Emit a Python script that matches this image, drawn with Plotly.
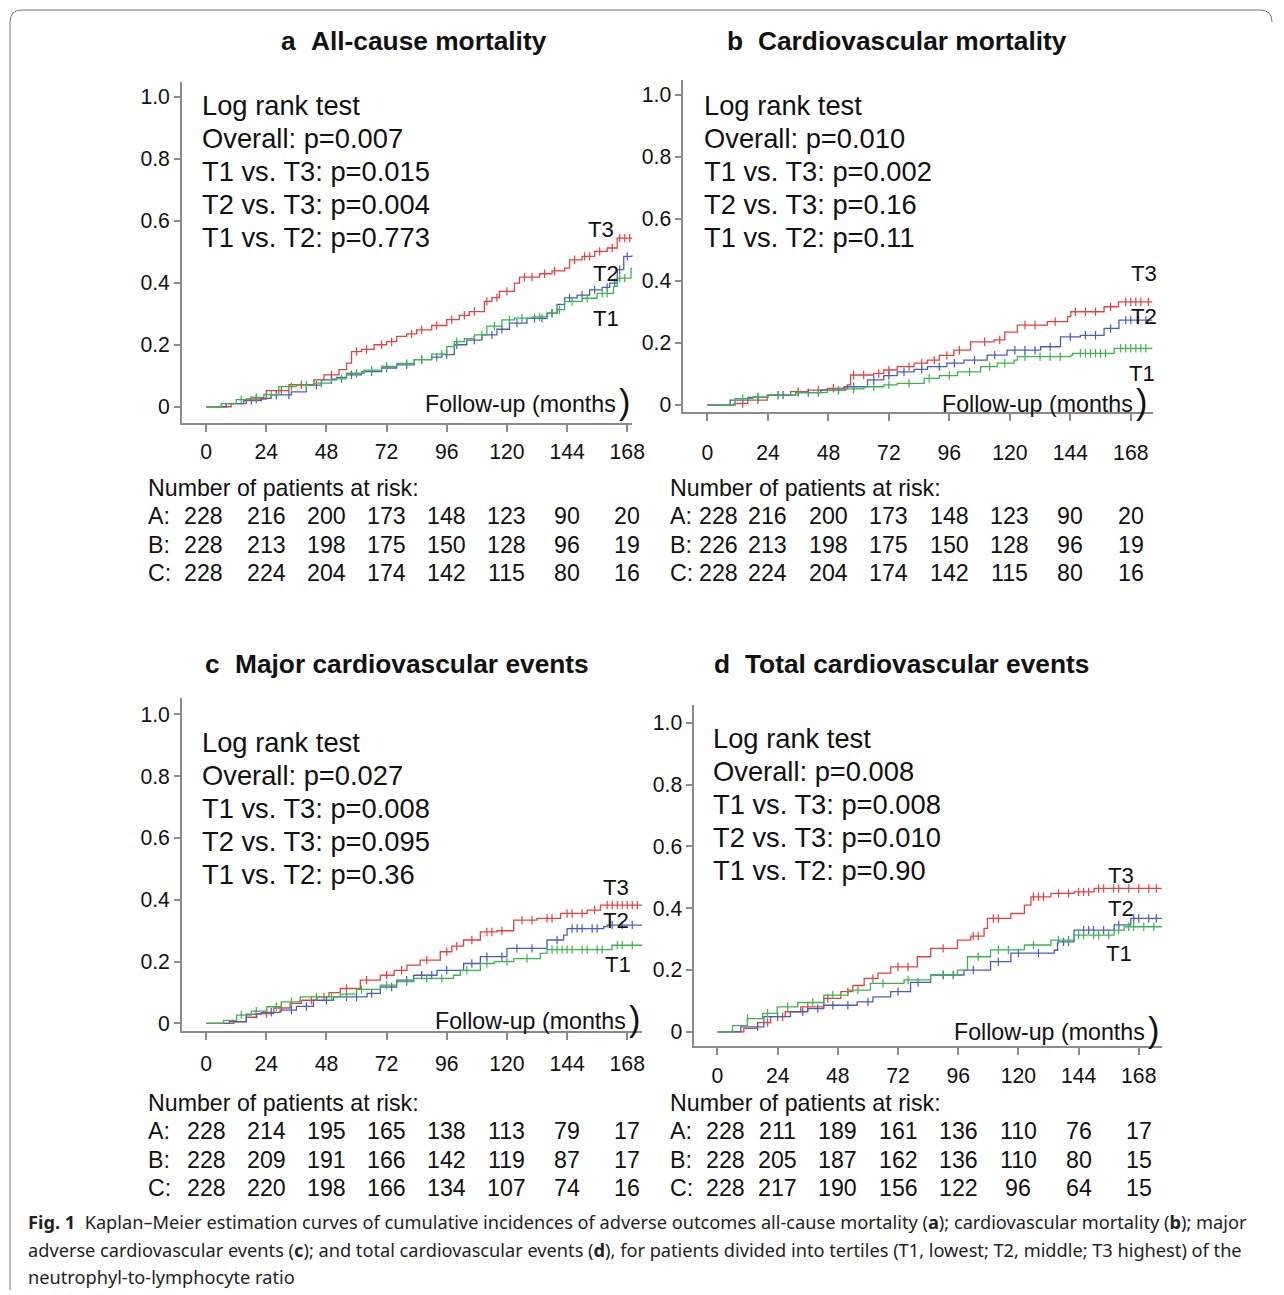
import numpy as np
import plotly.graph_objects as go

W, H = 1284, 1295
SX, SY, SF = 1 / 0.99, 1 / 0.996, 1.01   # compensation for the capture scaling observed
FONT = "Liberation Sans, Arial, sans-serif"
RED, BLUE, GREEN = "#e8403e", "#4a5cc4", "#3bb54a"
AXC = "#8a8a8a"

# ---------------- data ----------------
x_ticks = [0, 24, 48, 72, 96, 120, 144, 168]
y_ticks = [0, 0.2, 0.4, 0.6, 0.8, 1.0]
y_ticktext = ["0", "0.2", "0.4", "0.6", "0.8", "1.0"]

# Panel a: all-cause mortality
a_t3_t = [0, 10, 16, 24, 33, 43, 47, 53, 56, 58, 62, 67, 72, 76, 80, 84, 90, 96, 101, 105, 111, 114, 117, 123, 125, 133, 138, 143, 145, 150, 155, 160, 164, 170]
a_t3_v = [0, 0.01, 0.025, 0.052, 0.071, 0.087, 0.103, 0.12, 0.141, 0.178, 0.185, 0.2, 0.21, 0.227, 0.235, 0.248, 0.262, 0.281, 0.295, 0.307, 0.34, 0.352, 0.372, 0.399, 0.418, 0.429, 0.438, 0.447, 0.474, 0.485, 0.501, 0.512, 0.544, 0.544]
a_t3_c = [20, 30, 38, 50, 60, 64, 70, 74, 82, 86, 92, 98, 103, 107, 112, 116, 120, 127, 130, 135, 139, 147, 151, 153, 157, 162, 165, 167, 169]
a_t2_t = [0, 8, 15, 22, 26, 34, 40, 46, 52, 56, 62, 70, 76, 83, 90, 94, 99, 104, 110, 116, 121, 128, 136, 140, 143, 148, 153, 158, 161, 164, 166.6, 170]
a_t2_v = [0, 0.01, 0.02, 0.027, 0.038, 0.048, 0.07, 0.087, 0.095, 0.103, 0.113, 0.125, 0.135, 0.152, 0.16, 0.168, 0.2, 0.215, 0.232, 0.25, 0.27, 0.285, 0.302, 0.33, 0.351, 0.36, 0.377, 0.385, 0.399, 0.442, 0.485, 0.49]
a_t2_c = [18, 28, 33, 44, 50, 58, 66, 72, 80, 86, 92, 96, 100, 107, 114, 118, 124, 131, 134, 138, 145, 150, 155, 160, 163, 165, 168]
a_t1_t = [0, 6, 12, 18, 23, 29, 36, 43, 50, 56, 63, 70, 76, 83, 90, 96, 99, 103, 107, 112, 118, 123, 130, 136, 140, 143, 150, 156, 162.5, 164, 169.5, 170]
a_t1_v = [0, 0.01, 0.023, 0.03, 0.039, 0.065, 0.07, 0.076, 0.09, 0.108, 0.118, 0.13, 0.14, 0.152, 0.17, 0.194, 0.21, 0.22, 0.232, 0.26, 0.28, 0.286, 0.29, 0.302, 0.313, 0.34, 0.35, 0.366, 0.388, 0.415, 0.446, 0.446]
a_t1_c = [14, 20, 26, 34, 40, 46, 54, 60, 66, 72, 80, 86, 94, 100, 110, 115, 121, 126, 133, 138, 141, 146, 152, 158, 160, 165, 167]

# Panel b: cardiovascular mortality
b_t3_t = [0, 10.5, 16, 23.7, 33, 40, 47.5, 55.5, 56.8, 66, 70, 75.3, 82, 87.3, 92, 97.8, 104.4, 113.7, 118, 123, 134.9, 142.9, 144.2, 157.4, 163.1, 176.6]
b_t3_v = [0, 0.005, 0.016, 0.032, 0.043, 0.048, 0.054, 0.065, 0.097, 0.102, 0.113, 0.124, 0.135, 0.145, 0.16, 0.177, 0.204, 0.21, 0.235, 0.258, 0.269, 0.285, 0.301, 0.317, 0.333, 0.333]
b_t3_c = [14, 20, 28, 36, 44, 50, 58, 62, 68, 72, 80, 85, 90, 95, 100, 110, 116, 126, 130, 138, 146, 150, 154, 160, 166, 168, 170, 172, 175]
b_t2_t = [0, 9, 16, 24, 35, 45, 54.2, 63.5, 70, 75.3, 82, 87.3, 95, 101.8, 111, 118.9, 132.2, 140.1, 148, 157.4, 163.3, 176.6]
b_t2_v = [0, 0.016, 0.025, 0.032, 0.04, 0.048, 0.059, 0.081, 0.095, 0.107, 0.115, 0.124, 0.135, 0.145, 0.161, 0.177, 0.188, 0.22, 0.225, 0.247, 0.274, 0.274]
b_t2_c = [20, 30, 40, 52, 58, 66, 72, 78, 85, 92, 98, 106, 114, 122, 126, 130, 136, 144, 150, 154, 160, 166, 168, 171, 174]
b_t1_t = [0, 11, 18, 24, 35, 47.5, 55, 62.1, 70, 75.3, 86, 92, 99.2, 108.4, 115, 121.7, 123, 144.2, 144.9, 161.4, 176.6]
b_t1_v = [0, 0.021, 0.026, 0.032, 0.04, 0.048, 0.052, 0.059, 0.065, 0.07, 0.086, 0.095, 0.107, 0.124, 0.135, 0.145, 0.156, 0.161, 0.167, 0.183, 0.183]
b_t1_c = [14, 20, 28, 36, 44, 52, 58, 66, 72, 80, 88, 96, 104, 112, 118, 126, 132, 136, 140, 148, 150, 152, 154, 156, 158, 164, 166, 168, 170, 172, 174]

# Panel c: major cardiovascular events
c_t3_t = [0, 11, 16, 20.2, 27, 33.5, 38, 44.2, 49, 53.5, 61.5, 69.5, 75, 80.1, 85.4, 93.4, 98, 102.7, 109.4, 116, 122.7, 132, 141.4, 152, 157.3, 174]
c_t3_v = [0, 0.005, 0.02, 0.032, 0.05, 0.065, 0.075, 0.086, 0.1, 0.113, 0.14, 0.156, 0.172, 0.189, 0.205, 0.232, 0.25, 0.27, 0.296, 0.3, 0.334, 0.34, 0.356, 0.367, 0.383, 0.383]
c_t3_c = [24, 30, 42, 47, 56, 64, 72, 78, 88, 96, 100, 106, 112, 114, 118, 126, 130, 136, 138, 144, 146, 150, 155, 160, 162, 164, 166, 168, 170, 172]
c_t2_t = [0, 9.3, 16, 22, 29.5, 36, 42.8, 50.8, 64.2, 69.5, 76, 82.8, 92.1, 102.7, 109.4, 120, 136, 142.6, 144, 158.6, 160, 174]
c_t2_v = [0, 0.006, 0.03, 0.036, 0.043, 0.055, 0.075, 0.086, 0.097, 0.118, 0.14, 0.156, 0.172, 0.194, 0.216, 0.243, 0.27, 0.286, 0.307, 0.313, 0.318, 0.318]
c_t2_c = [20, 26, 34, 40, 48, 56, 60, 66, 74, 80, 86, 90, 96, 106, 112, 118, 124, 130, 140, 146, 148, 150, 154, 156, 162, 166, 170]
c_t1_t = [0, 7, 12.2, 18, 24.2, 30, 37.5, 53.5, 60, 69.5, 76, 82.8, 98.7, 101.4, 109.4, 115, 122.7, 133.3, 136, 161.9, 174]
c_t1_v = [0, 0.01, 0.027, 0.04, 0.054, 0.07, 0.086, 0.095, 0.11, 0.124, 0.135, 0.146, 0.156, 0.172, 0.194, 0.2, 0.21, 0.227, 0.239, 0.253, 0.253]
c_t1_c = [14, 20, 28, 34, 44, 50, 56, 62, 72, 80, 88, 94, 104, 112, 120, 128, 138, 140, 142, 144, 146, 150, 152, 156, 158, 164, 166, 170]

# Panel d: total cardiovascular events
d_t3_t = [0, 10.5, 16, 21.2, 27, 33.2, 42.4, 49.2, 54, 58.5, 64, 69.1, 79.7, 85, 95.7, 101, 106.3, 107.7, 117, 122.4, 125, 133, 142.2, 150.2, 177.5]
d_t3_v = [0, 0.011, 0.03, 0.049, 0.065, 0.081, 0.108, 0.13, 0.15, 0.173, 0.19, 0.21, 0.243, 0.27, 0.297, 0.31, 0.335, 0.367, 0.383, 0.41, 0.437, 0.448, 0.453, 0.464, 0.464]
d_t3_c = [20, 26, 36, 44, 52, 62, 72, 76, 90, 102, 104, 110, 112, 126, 128, 130, 136, 140, 144, 146, 148, 152, 154, 158, 160, 164, 168, 172, 175]
d_t2_t = [0, 9.3, 18.5, 29.1, 36, 42.4, 55.7, 62, 69.1, 77, 85, 98.3, 108.9, 117, 134.3, 135.6, 142.2, 158.2, 164.8, 177.5]
d_t2_v = [0, 0.016, 0.049, 0.065, 0.075, 0.086, 0.097, 0.113, 0.13, 0.16, 0.184, 0.2, 0.227, 0.255, 0.264, 0.291, 0.329, 0.346, 0.367, 0.367]
d_t2_c = [16, 24, 34, 40, 46, 52, 60, 72, 80, 90, 94, 102, 112, 120, 128, 138, 140, 146, 148, 150, 154, 160, 166, 168, 172, 175]
d_t1_t = [0, 6, 11.9, 18, 23.8, 32, 42.4, 52, 61, 74.4, 85, 95.7, 99.7, 108.9, 122.4, 133, 142.2, 158.2, 162.2, 177.5]
d_t1_v = [0, 0.02, 0.043, 0.06, 0.081, 0.095, 0.119, 0.135, 0.157, 0.168, 0.184, 0.2, 0.243, 0.265, 0.281, 0.297, 0.313, 0.329, 0.34, 0.34]
d_t1_c = [12, 20, 28, 38, 46, 56, 66, 76, 90, 104, 112, 116, 126, 136, 140, 144, 146, 150, 152, 156, 160, 164, 166, 170, 174]

# Panel text
titles = ["All-cause mortality", "Cardiovascular mortality", "Major cardiovascular events", "Total cardiovascular events"]
letters = ["a", "b", "c", "d"]
logrank_a = ["Log rank test", "Overall: p=0.007", "T1 vs. T3: p=0.015", "T2 vs. T3: p=0.004", "T1 vs. T2: p=0.773"]
logrank_b = ["Log rank test", "Overall: p=0.010", "T1 vs. T3: p=0.002", "T2 vs. T3: p=0.16", "T1 vs. T2: p=0.11"]
logrank_c = ["Log rank test", "Overall: p=0.027", "T1 vs. T3: p=0.008", "T2 vs. T3: p=0.095", "T1 vs. T2: p=0.36"]
logrank_d = ["Log rank test", "Overall: p=0.008", "T1 vs. T3: p=0.008", "T2 vs. T3: p=0.010", "T1 vs. T2: p=0.90"]

# Numbers at risk
risk_a_A = [228, 216, 200, 173, 148, 123, 90, 20]
risk_a_B = [228, 213, 198, 175, 150, 128, 96, 19]
risk_a_C = [228, 224, 204, 174, 142, 115, 80, 16]
risk_b_A = [228, 216, 200, 173, 148, 123, 90, 20]
risk_b_B = [226, 213, 198, 175, 150, 128, 96, 19]
risk_b_C = [228, 224, 204, 174, 142, 115, 80, 16]
risk_c_A = [228, 214, 195, 165, 138, 113, 79, 17]
risk_c_B = [228, 209, 191, 166, 142, 119, 87, 17]
risk_c_C = [228, 220, 198, 166, 134, 107, 74, 16]
risk_d_A = [228, 211, 189, 161, 136, 110, 76, 17]
risk_d_B = [228, 205, 187, 162, 136, 110, 80, 15]
risk_d_C = [228, 217, 190, 156, 122, 96, 64, 15]

caption = [
    "<b>Fig. 1</b>  Kaplan–Meier estimation curves of cumulative incidences of adverse outcomes all-cause mortality (<b>a</b>); cardiovascular mortality (<b>b</b>); major",
    "adverse cardiovascular events (<b>c</b>); and total cardiovascular events (<b>d</b>), for patients divided into tertiles (T1, lowest; T2, middle; T3 highest) of the",
    "neutrophyl-to-lymphocyte ratio",
]

# ---------------- layout geometry (reference pixels) ----------------
panels = [
    dict(curves=[(a_t3_t, a_t3_v, a_t3_c, RED), (a_t2_t, a_t2_v, a_t2_c, BLUE), (a_t1_t, a_t1_v, a_t1_c, GREEN)],
         dx=(182, 632), dy=(82, 423), x0=206, xs=2.505, y0=406.7, ys=310, stand=2,
         title_x=288, title_y=41, lr=logrank_a, lr_x=200, lr_y=105,
         tl=[(586, 229), (591, 273), (591, 318)], fu=(423, 404),
         risk=(risk_a_A, risk_a_B, risk_a_C), rk_x=146, rk_y=488, rk_dy=(516, 545, 573), rk_s0=-3),
    dict(curves=[(b_t3_t, b_t3_v, b_t3_c, RED), (b_t2_t, b_t2_v, b_t2_c, BLUE), (b_t1_t, b_t1_v, b_t1_c, GREEN)],
         dx=(683, 1152), dy=(80, 411.7), x0=707, xs=2.518, y0=405, ys=310, stand=14,
         title_x=735, title_y=41, lr=logrank_b, lr_x=702, lr_y=105,
         tl=[(1128, 273), (1128, 316), (1126, 373)], fu=(939, 404),
         risk=(risk_b_A, risk_b_B, risk_b_C), rk_x=668, rk_y=488, rk_dy=(516, 545, 573), rk_s0=11),
    dict(curves=[(c_t3_t, c_t3_v, c_t3_c, RED), (c_t2_t, c_t2_v, c_t2_c, BLUE), (c_t1_t, c_t1_v, c_t1_c, GREEN)],
         dx=(182, 642), dy=(698, 1030.7), x0=206, xs=2.505, y0=1023.3, ys=309, stand=6,
         title_x=212, title_y=664, lr=logrank_c, lr_x=200, lr_y=742,
         tl=[(601, 887), (601, 920), (603, 964)], fu=(433, 1021),
         risk=(risk_c_A, risk_c_B, risk_c_C), rk_x=146, rk_y=1103, rk_dy=(1131, 1160, 1188), rk_s0=0),
    dict(curves=[(d_t3_t, d_t3_v, d_t3_c, RED), (d_t2_t, d_t2_v, d_t2_c, BLUE), (d_t1_t, d_t1_v, d_t1_c, GREEN)],
         dx=(694, 1161), dy=(705, 1046), x0=717, xs=2.506, y0=1031.7, ys=309, stand=2,
         title_x=722, title_y=664, lr=logrank_d, lr_x=711, lr_y=738,
         tl=[(1105, 875), (1105, 908), (1103, 953)], fu=(951, 1032),
         risk=(risk_d_A, risk_d_B, risk_d_C), rk_x=668, rk_y=1103, rk_dy=(1131, 1160, 1188), rk_s0=8),
]


def px(x):
    return min(x * SX / W, 1.0)


def py(y):
    return max(1 - y * SY / H, 0.0)


def fs(s):
    return round(s * SF, 1)


fig = go.Figure()
annotations = []
labels_T = ["T3", "T2", "T1"]

for i, p in enumerate(panels):
    n = "" if i == 0 else str(i + 1)
    xa, ya = "x" + n, "y" + n
    for (t, v, cens, col) in p["curves"]:
        fig.add_trace(go.Scatter(x=t, y=v, mode="lines", line=dict(color=col, width=1.3, shape="hv"),
                                 xaxis=xa, yaxis=ya, hoverinfo="skip"))
        t_arr, v_arr, c_arr = np.array(t), np.array(v), np.array(cens)
        idx = np.searchsorted(t_arr, c_arr, side="right") - 1
        fig.add_trace(go.Scatter(x=c_arr, y=v_arr[idx], mode="markers",
                                 marker=dict(symbol="line-ns", size=6, line=dict(color=col, width=1.2)),
                                 xaxis=xa, yaxis=ya, hoverinfo="skip"))
    xr = [(p["dx"][0] - p["x0"]) / p["xs"], (p["dx"][1] - p["x0"]) / p["xs"]]
    yr = [(p["y0"] - p["dy"][1]) / p["ys"], (p["y0"] - p["dy"][0]) / p["ys"]]
    fig.update_layout(**{
        "xaxis" + n: dict(domain=[px(p["dx"][0]), px(p["dx"][1])], range=xr, anchor=ya,
                          tickvals=x_ticks, ticks="outside", ticklen=7, tickwidth=1.5, tickcolor=AXC,
                          showline=True, linecolor=AXC, linewidth=2, showgrid=False, zeroline=False,
                          tickfont=dict(family=FONT, size=fs(21), color="#111"), ticklabelstandoff=p["stand"]),
        "yaxis" + n: dict(domain=[py(p["dy"][1]), py(p["dy"][0])], range=yr, anchor=xa,
                          tickvals=y_ticks, ticktext=y_ticktext, ticks="outside", ticklen=6, tickwidth=1.5,
                          tickcolor=AXC, showline=True, linecolor=AXC, linewidth=2, showgrid=False,
                          zeroline=False, tickfont=dict(family=FONT, size=fs(21), color="#111")),
    })
    # title
    annotations.append(dict(x=px(p["title_x"]), y=py(p["title_y"]), text="<b>" + letters[i] + "</b>",
                            xanchor="center", yanchor="middle", font=dict(family=FONT, size=fs(26), color="#111")))
    annotations.append(dict(x=px(p["title_x"] + 21), y=py(p["title_y"]), text="<b>" + titles[i] + "</b>",
                            xanchor="left", yanchor="middle", font=dict(family=FONT, size=fs(26), color="#111")))
    # log rank
    for k, line in enumerate(p["lr"]):
        annotations.append(dict(x=px(p["lr_x"]), y=py(p["lr_y"] + 33 * k), text=line, xanchor="left",
                                yanchor="middle", font=dict(family=FONT, size=fs(27), color="#111")))
    # T labels
    for k, (lx, ly) in enumerate(p["tl"]):
        annotations.append(dict(x=px(lx), y=py(ly), text=labels_T[k], xanchor="left", yanchor="middle",
                                font=dict(family=FONT, size=fs(22), color="#111")))
    # follow-up label
    fx, fy = p["fu"]
    annotations.append(dict(x=px(fx), y=py(fy), text="Follow-up (months", xanchor="left", yanchor="middle",
                            font=dict(family=FONT, size=fs(23), color="#111")))
    annotations.append(dict(x=px(fx + 194), y=py(fy - 2), text=")", xanchor="left", yanchor="middle",
                            font=dict(family=FONT, size=fs(34), color="#111")))
    # risk table
    annotations.append(dict(x=px(p["rk_x"]), y=py(p["rk_y"]), text="Number of patients at risk:",
                            xanchor="left", yanchor="middle", font=dict(family=FONT, size=fs(23), color="#111")))
    for rl, row, ry in zip(["A:", "B:", "C:"], p["risk"], p["rk_dy"]):
        annotations.append(dict(x=px(p["rk_x"]), y=py(ry), text=rl, xanchor="left", yanchor="middle",
                                font=dict(family=FONT, size=fs(23), color="#111")))
        for j, (tv, num) in enumerate(zip(x_ticks, row)):
            annotations.append(dict(x=tv, xref=xa, y=py(ry), yref="paper", text=str(num),
                                    xanchor="center", yanchor="middle", showarrow=False,
                                    xshift=p["rk_s0"] * SX if j == 0 else 0,
                                    font=dict(family=FONT, size=fs(23), color="#111")))

for k, line in enumerate(caption):
    annotations.append(dict(x=px(26), y=py(1222 + 27.5 * k), text=line, xanchor="left", yanchor="middle",
                            font=dict(family="Noto Sans, sans-serif", size=fs(18), color="#222")))

for a in annotations:
    a.setdefault("xref", "paper")
    a.setdefault("yref", "paper")
    a["showarrow"] = False

border = (f"M {px(10)},0 L {px(10)},{py(22)} Q {px(10)},{py(10)} {px(22)},{py(10)} "
          f"L {(W - 12) / W},{py(10)} Q 1,{py(10)} 1,{py(22)}")

fig.update_layout(
    width=W, height=H, autosize=False, margin=dict(l=0, r=0, t=0, b=0),
    paper_bgcolor="white", plot_bgcolor="white", showlegend=False,
    annotations=annotations,
    shapes=[dict(type="path", xref="paper", yref="paper", path=border, line=dict(color="#777", width=1))],
)

fig.write_html("out.html", config={"displayModeBar": False, "responsive": False},
               post_script="document.documentElement.style.overflow='hidden';document.body.style.margin='0px';document.body.style.overflow='hidden';")
